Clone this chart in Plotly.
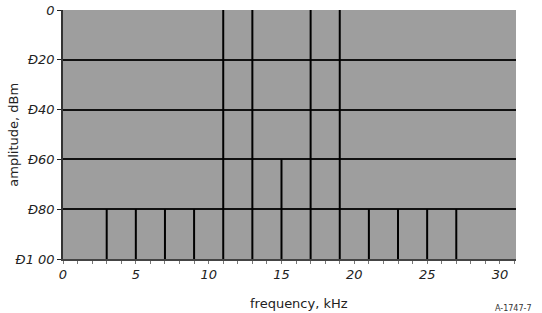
import plotly.graph_objects as go

freqs = [3, 5, 7, 9, 11, 13, 15, 17, 19, 21, 23, 25, 27]
amps = [-80, -80, -80, -80, 0, 0, -60, 0, 0, -80, -80, -80, -80]
y_ticks = [0, -20, -40, -60, -80, -100]
y_labels = ["0", "Ð20", "Ð40", "Ð60", "Ð80", "Ð1 00"]
x_ticks = [0, 5, 10, 15, 20, 25, 30]

xs, ys = [], []
for f, a in zip(freqs, amps):
    xs += [f, f, None]
    ys += [-100, a, None]

fig = go.Figure()
fig.add_trace(go.Scatter(x=xs, y=ys, mode="lines",
                         line=dict(color="black", width=2), showlegend=False,
                         hoverinfo="skip"))

tickfont = dict(family="DejaVu Sans", size=13, color="#222", style="italic")
titlefont = dict(family="DejaVu Sans", size=13, color="#222")
fig.update_layout(
    width=542, height=313,
    margin=dict(l=63, r=26, t=10, b=54),
    paper_bgcolor="white",
    plot_bgcolor="#9e9e9e",
    xaxis=dict(range=[0, 31.1], tickvals=x_ticks, ticktext=[str(v) for v in x_ticks],
               automargin=False,
               showgrid=False, zeroline=False, showline=True, linecolor="#444", linewidth=1.5,
               ticks="outside", ticklen=3, tickcolor="#777",
               minor=dict(dtick=1, ticks="outside", ticklen=3, tickcolor="#777"),
               tickfont=tickfont),
    yaxis=dict(range=[-100, 0], tickvals=y_ticks, ticktext=y_labels,
               automargin=False,
               showgrid=True, gridcolor="#111", gridwidth=1.5, zeroline=False,
               showline=True, linecolor="#333", linewidth=1.5,
               ticks="outside", ticklen=4, tickcolor="#222",
               tickfont=tickfont),
)
fig.add_annotation(text="frequency, kHz", xref="paper", yref="paper", x=0.52, y=-0.14,
                   xanchor="center", yanchor="top", showarrow=False, font=titlefont)
fig.add_annotation(text="amplitude, dBm", xref="paper", yref="paper", x=-0.11, y=0.5,
                   xanchor="center", yanchor="middle", textangle=-90, showarrow=False, font=titlefont)
fig.add_annotation(text="A-1747-7", xref="paper", yref="paper", x=1.04, y=-0.172,
                   xanchor="right", yanchor="top", showarrow=False,
                   font=dict(family="DejaVu Sans", size=8, color="#333"))
fig.write_html("out.html")
